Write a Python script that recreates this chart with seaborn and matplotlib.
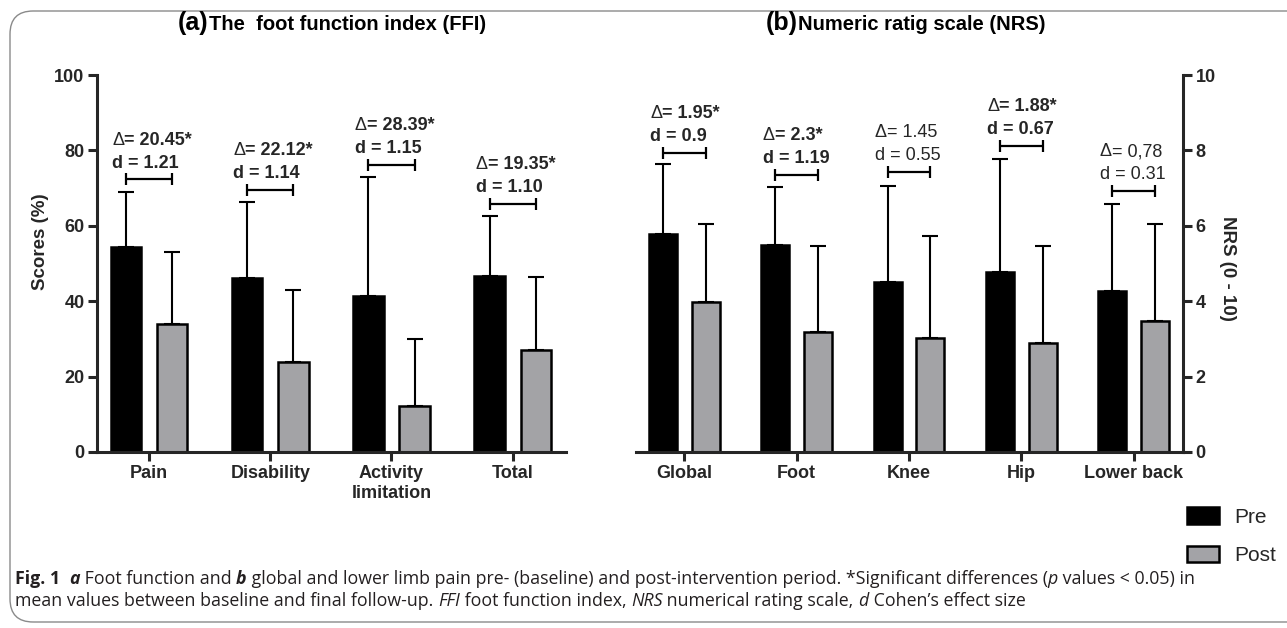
import matplotlib
matplotlib.use("Agg")
import matplotlib.pyplot as plt
import seaborn as sns
import pandas as pd
import numpy as np
from matplotlib.patches import Patch, FancyBboxPatch

# ---------------- data ----------------
groups = ["Pre", "Post"]

ffi_categories = ["Pain", "Disability", "Activity\nlimitation", "Total"]
ffi_pre = [54.4, 46.1, 41.4, 46.6]
ffi_pre_sd = [14.6, 20.2, 31.5, 16.1]
ffi_post = [33.9, 24.0, 12.2, 27.1]
ffi_post_sd = [19.1, 19.0, 17.7, 19.3]
ffi_bracket = [72.3, 69.5, 76.1, 65.9]
ffi_delta = ["20.45*", "22.12*", "28.39*", "19.35*"]
ffi_d = ["d = 1.21", "d = 1.14", "d = 1.15", "d = 1.10"]
ffi_sig = [True, True, True, True]
ffi_yticks = [0, 20, 40, 60, 80, 100]

nrs_categories = ["Global", "Foot", "Knee", "Hip", "Lower back"]
nrs_pre = [5.77, 5.50, 4.51, 4.77, 4.28]
nrs_pre_sd = [1.88, 1.54, 2.54, 3.01, 2.31]
nrs_post = [3.97, 3.19, 3.03, 2.90, 3.48]
nrs_post_sd = [2.08, 2.27, 2.69, 2.56, 2.57]
nrs_bracket = [7.94, 7.35, 7.43, 8.12, 6.92]
nrs_delta = ["1.95*", "2.3*", "1.45", "1.88*", "0,78"]
nrs_d = ["d = 0.9", "d = 1.19", "d = 0.55", "d = 0.67", "d = 0.31"]
nrs_sig = [True, True, False, True, False]
nrs_yticks = [0, 2, 4, 6, 8, 10]

PRE_COLOR = "black"
POST_COLOR = "#a3a3a7"

# ---------------- style ----------------
sns.set_style("ticks")
plt.rcParams["font.family"] = ["Liberation Sans", "DejaVu Sans"]

W, H = 1287, 628
fig = plt.figure(figsize=(W / 100, H / 100), dpi=100)
fig.patch.set_facecolor("white")
renderer = fig.canvas.get_renderer()

LW = 2.2


def panel(ax, cats, pre, pre_sd, post, post_sd, brk, dtxt, ftxt, sig, yticks, right=False):
    n = len(cats)
    df = pd.DataFrame({
        "category": cats + cats,
        "group": ["Pre"] * n + ["Post"] * n,
        "value": pre + post,
    })
    sns.barplot(data=df, x="category", y="value", hue="group", order=cats,
                hue_order=groups, palette={"Pre": PRE_COLOR, "Post": POST_COLOR},
                width=0.76, gap=0.34, edgecolor="black", linewidth=1.8,
                errorbar=None, legend=False, ax=ax, zorder=2)
    pre_bars, post_bars = ax.containers[0], ax.containers[1]
    pre_x = [b.get_x() + b.get_width() / 2 for b in pre_bars]
    post_x = [b.get_x() + b.get_width() / 2 for b in post_bars]
    for xs, means, sds in ((pre_x, pre, pre_sd), (post_x, post, post_sd)):
        ax.errorbar(xs, means, yerr=[np.zeros(n), sds], fmt="none", ecolor="black",
                    elinewidth=1.5, capsize=5.5, capthick=1.5, zorder=1)
    for i in range(n):
        ax.plot([pre_x[i], post_x[i]], [brk[i], brk[i]], color="black", lw=1.6,
                marker="|", markersize=9, markeredgewidth=1.6, zorder=3,
                solid_capstyle="butt")
        fw = "bold" if sig[i] else "normal"
        left = pre_bars[i].get_x()
        tri = ax.annotate("Δ", xy=(left, brk[i]), xytext=(1, 25), textcoords="offset points",
                          ha="left", va="baseline", fontsize=13, fontweight="normal",
                          annotation_clip=False)
        wpt = tri.get_window_extent(renderer).width * 72 / fig.dpi
        ax.annotate("= " + dtxt[i], xy=(left, brk[i]), xytext=(1 + wpt, 25),
                    textcoords="offset points", ha="left", va="baseline", fontsize=13,
                    fontweight=fw, annotation_clip=False)
        ax.annotate(ftxt[i], xy=(left, brk[i]), xytext=(1, 8.5), textcoords="offset points",
                    ha="left", va="baseline", fontsize=13, fontweight=fw,
                    annotation_clip=False)
    ax.set_xlim(-0.43, n - 1 + 0.44)
    ax.set_ylim(yticks[0], yticks[-1])
    ax.set_yticks(yticks)
    ax.set_xlabel("")
    for s in ax.spines.values():
        s.set_linewidth(LW)
    ax.spines["top"].set_visible(False)
    if right:
        ax.spines["left"].set_visible(False)
        ax.yaxis.tick_right()
        ax.yaxis.set_label_position("right")
    else:
        ax.spines["right"].set_visible(False)
    ax.tick_params(axis="both", width=LW, length=6.5, labelsize=13, pad=2.5)
    for lbl in ax.get_xticklabels() + ax.get_yticklabels():
        lbl.set_fontweight("bold")
        lbl.set_linespacing(1.25)


ax_a = fig.add_axes([97 / W, (H - 452) / H, (566 - 97) / W, (452 - 75) / H])
ax_b = fig.add_axes([636 / W, (H - 452) / H, (1183 - 636) / W, (452 - 75) / H])

panel(ax_a, ffi_categories, ffi_pre, ffi_pre_sd, ffi_post, ffi_post_sd, ffi_bracket,
      ffi_delta, ffi_d, ffi_sig, ffi_yticks)
panel(ax_b, nrs_categories, nrs_pre, nrs_pre_sd, nrs_post, nrs_post_sd, nrs_bracket,
      nrs_delta, nrs_d, nrs_sig, nrs_yticks, right=True)

ax_a.set_ylabel("Scores (%)", fontsize=13.5, fontweight="bold", va="center", ha="center")
ax_a.yaxis.set_label_coords(-0.121, 0.557)
ax_b.set_ylabel("NRS (0 - 10)", fontsize=13.5, fontweight="bold", rotation=270,
                va="center", ha="center")
ax_b.yaxis.set_label_coords(1.082, 0.488)


# ---------------- text runs helper ----------------
def runs(x_px, y_px, parts, **common):
    x = x_px
    for txt, props in parts:
        kw = dict(common)
        kw.update(props)
        t = fig.text(x / W, 1 - y_px / H, txt, ha="left", va="baseline", **kw)
        x += t.get_window_extent(renderer).width
    return x


# titles
runs(178, 30, [("(a)", dict(fontsize=18, fontweight="bold")),
               ("The  foot function index (FFI)", dict(fontsize=14.5, fontweight="bold"))],
     color="black")
runs(766, 30, [("(b)", dict(fontsize=18, fontweight="bold")),
               ("Numeric ratig scale (NRS)", dict(fontsize=14.5, fontweight="bold"))],
     color="black")

# legend
handles = [Patch(facecolor=PRE_COLOR, edgecolor="black", linewidth=1.8, label="Pre"),
           Patch(facecolor=POST_COLOR, edgecolor="black", linewidth=1.8, label="Post")]
fig.legend(handles=handles, loc="upper left", bbox_to_anchor=(1187 / W, 1 - 507 / H),
           frameon=False, fontsize=15, handlelength=1.55, handleheight=0.85,
           handletextpad=0.7, labelspacing=0.92, borderpad=0, borderaxespad=0)

# caption
cap_font = ["Open Sans", "DejaVu Sans"]
cap_color = "#231f20"
cap_size = 12.8
line1 = [("Fig. 1", dict(fontweight="bold")),
         ("  ", {}),
         ("a", dict(fontweight="bold", fontstyle="italic")),
         (" Foot function and ", {}),
         ("b", dict(fontweight="bold", fontstyle="italic")),
         (" global and lower limb pain pre- (baseline) and post-intervention period. "
          "*Significant differences (", {}),
         ("p", dict(fontstyle="italic")),
         (" values < 0.05) in", {})]
line2 = [("mean values between baseline and final follow-up. ", {}),
         ("FFI", dict(fontstyle="italic")),
         (" foot function index, ", {}),
         ("NRS", dict(fontstyle="italic")),
         (" numerical rating scale, ", {}),
         ("d", dict(fontstyle="italic")),
         (" Cohen’s effect size", {})]
runs(15, 584, line1, family=cap_font, fontsize=cap_size, color=cap_color)
runs(15, 606, line2, family=cap_font, fontsize=cap_size, color=cap_color)

# frame
frame = FancyBboxPatch((10 / W, (H - 622) / H), (W + 20) / W, (622 - 11) / H,
                       boxstyle="round,pad=0,rounding_size=0.018",
                       transform=fig.transFigure, facecolor="none",
                       edgecolor="#8a8a8a", linewidth=1.0, mutation_aspect=W / H)
fig.patches.append(frame)

fig.savefig("out.png", dpi=100, facecolor="white")
